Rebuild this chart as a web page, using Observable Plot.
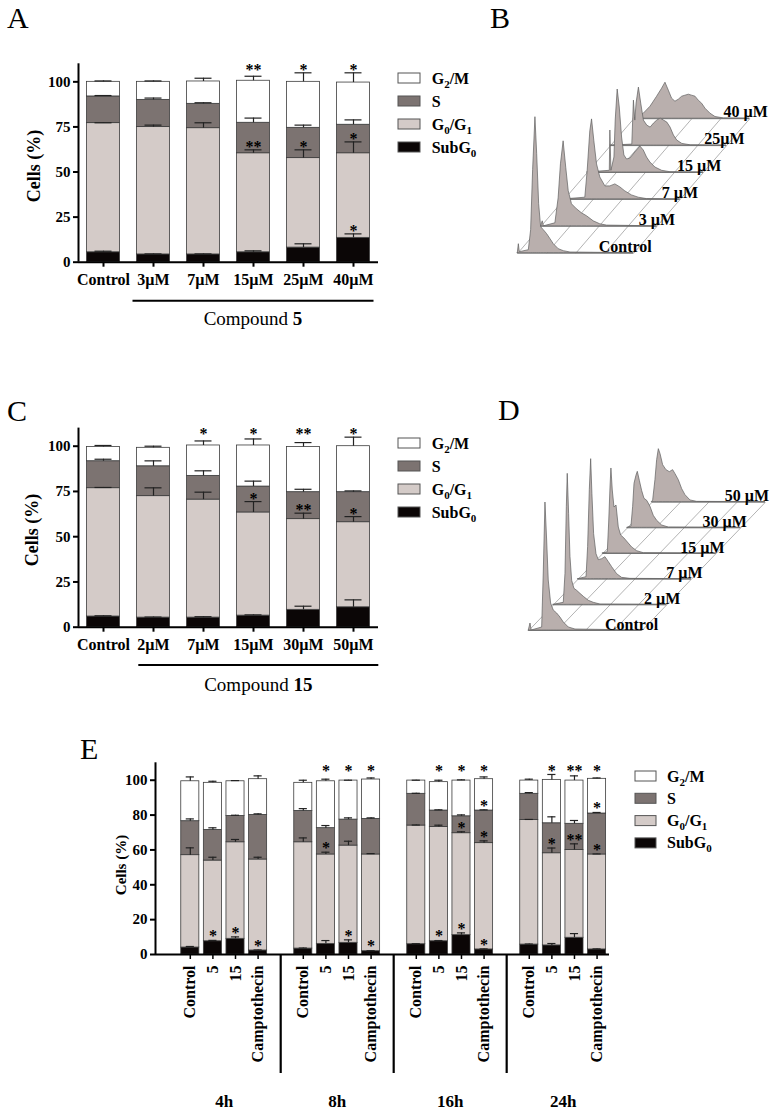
<!DOCTYPE html>
<html><head><meta charset="utf-8">
<script src="https://cdn.jsdelivr.net/npm/d3@7"></script>
<script src="https://cdn.jsdelivr.net/npm/@observablehq/plot@0.6"></script>
<style>
html,body{margin:0;padding:0;background:#fff;}
#root{position:relative;width:779px;height:1114px;overflow:hidden;background:#fff;}
</style></head>
<body><div id="root"></div>
<script>
// ---------------- DATA ----------------
const phases = ["SubG0", "G0/G1", "S", "G2/M"];
const phaseColors = ["#0b0606", "#d4cbc8", "#7c7371", "#ffffff"];
const legendOrder = ["G2/M", "S", "G0/G1", "SubG0"];

// Panel A (Compound 5)
const aGroups = ["Control", "3µM", "7µM", "15µM", "25µM", "40µM"];
const aSubG0 = [5.5, 4.3, 4.3, 5.5, 8.1, 13.5];
const aG0G1 = [71.6, 70.6, 70.0, 54.9, 49.6, 46.9];
const aS = [14.8, 15.1, 13.5, 16.9, 16.8, 15.8];
const aG2M = [8.1, 10.0, 12.4, 23.3, 25.5, 23.4];
const aSubG0Err = [0.6, 0.3, 0.3, 0.8, 2.1, 2.2];
const aG0G1Err = [0.2, 1.1, 3.0, 1.9, 4.6, 6.3];
const aSErr = [0.5, 1.0, 0.6, 2.6, 1.5, 2.7];
const aG2MErr = [0.5, 0.5, 1.8, 2.5, 5.0, 5.4];
const aStars = [[3, "top", "**"], [3, "G0/G1", "**"], [4, "top", "*"], [4, "G0/G1", "*"], [5, "top", "*"], [5, "G0/G1", "*"], [5, "SubG0", "*"]];

// Panel C (Compound 15)
const cGroups = ["Control", "2µM", "7µM", "15µM", "30µM", "50µM"];
const cSubG0 = [5.9, 5.3, 5.3, 6.4, 9.6, 11.0];
const cG0G1 = [70.9, 67.1, 65.2, 57.0, 50.1, 47.0];
const cS = [14.9, 16.5, 13.1, 14.3, 14.9, 16.6];
const cG2M = [7.9, 10.2, 16.8, 22.7, 25.0, 25.4];
const cSubG0Err = [0.4, 0.3, 0.5, 0.4, 2.0, 4.1];
const cG0G1Err = [0.4, 4.6, 4.1, 6.0, 3.3, 3.1];
const cSErr = [1.1, 3.0, 2.8, 3.0, 1.6, 0.7];
const cG2MErr = [0.8, 0.9, 2.5, 3.6, 2.4, 5.0];
const cStars = [[2, "top", "*"], [3, "top", "*"], [3, "G0/G1", "*"], [4, "top", "**"], [4, "G0/G1", "**"], [5, "top", "*"], [5, "G0/G1", "*"]];

// Panel E (time course)
const eTimes = ["4h", "8h", "16h", "24h"];
const eTreatments = ["Control", "5", "15", "Camptothecin"];
const eSubG0 = [4.0, 7.6, 9.0, 2.3, 3.4, 6.1, 6.7, 1.9, 5.9, 7.6, 11.1, 2.9, 5.7, 5.2, 9.6, 2.9];
const eG0G1 = [53.0, 46.3, 55.4, 52.2, 61.0, 51.3, 55.8, 55.5, 68.1, 65.6, 58.5, 61.0, 71.5, 52.9, 50.4, 54.5];
const eS = [19.5, 17.6, 15.1, 25.6, 18.0, 15.1, 14.9, 20.4, 18.2, 9.4, 9.7, 18.7, 15.0, 17.2, 15.0, 23.5];
const eG2M = [22.9, 27.0, 19.9, 20.5, 16.1, 26.9, 22.4, 22.6, 7.6, 16.3, 20.5, 18.0, 7.6, 24.9, 24.8, 19.9];
const eSubG0Err = [0.6, 0.5, 1.1, 0.3, 0.3, 1.9, 1.7, 0.3, 0.3, 0.4, 1.3, 0.3, 0.3, 1.1, 2.4, 0.3];
const eG0G1Err = [4.2, 1.9, 1.6, 1.3, 2.5, 1.3, 2.5, 0.5, 0.3, 1.0, 0.8, 1.3, 0.3, 3.0, 3.5, 0.3];
const eSErr = [1.3, 1.2, 0.4, 0.6, 1.3, 1.5, 1.0, 0.6, 0.3, 0.4, 0.8, 0.4, 0.7, 3.7, 1.9, 0.6];
const eG2MErr = [2.5, 0.9, 0.4, 1.9, 1.5, 1.2, 0.2, 0.9, 0.2, 1.1, 0.4, 1.3, 0.8, 3.1, 2.7, 0.5];
const eStars = [
  [1, "SubG0", "*"], [2, "SubG0", "*"], [3, "SubG0", "*"],
  [5, "top", "*"], [6, "top", "*"], [7, "top", "*"], [5, "G0/G1", "*"], [6, "SubG0", "*"], [7, "SubG0", "*"],
  [9, "top", "*"], [10, "top", "*"], [11, "top", "*"], [9, "SubG0", "*"], [10, "G0/G1", "*"], [10, "SubG0", "*"],
  [11, "S", "*"], [11, "G0/G1", "*"], [11, "SubG0", "*"],
  [13, "top", "*"], [14, "top", "**"], [15, "top", "*"], [13, "G0/G1", "*"], [14, "G0/G1", "**"], [15, "S", "*"], [15, "G0/G1", "*"]
];

// Panel B histograms (channel, relative count)
const bLabels = ["Control", "3 µM", "7 µM", "15 µM", "25µM", "40 µM"];
const bControl = [[0,0],[0.9,9],[1.7,1],[9.5,3],[11.5,23],[13.2,83],[15.2,136],[16.7,99],[18.4,49],[20.1,26],[22.4,23],[25.3,19],[28.2,14],[31,9],[35.3,4],[39.7,2],[45.4,0.7],[100,0]];
const b3uM = [[0,0],[1.5,5],[2.5,0],[12.4,3],[15.2,28],[17.2,62],[19.5,85],[21.8,58],[23.9,35],[26.7,22],[31,17],[35.3,13],[39.7,10],[45.4,5],[51.1,2],[56.9,0.7],[100,0]];
const b7uM = [[0,0],[18.2,1.7],[20.2,28],[22.5,68],[24,80],[26,58],[28.3,35],[31.1,22],[35.5,13],[39.8,13],[44.1,15],[48.4,12],[52.7,8],[58.4,4],[64.2,1.7],[71.4,0.3],[100,0]];
const b15uM = [[0,0],[19.3,1.7],[19.8,42],[20.7,1.7],[23.3,15],[24.4,52],[26.1,83],[27.9,65],[29.9,35],[31.9,17],[34.2,13],[37.1,14],[39.9,18],[42.8,22],[45.7,26],[48.6,22],[51.4,15],[54.3,10],[58.6,5],[64.4,1.7],[71.6,0.3],[100,0]];
const b25uM = [[0,0],[18.7,1],[20.1,45],[21.3,25],[22.4,42],[24.4,58],[26.4,42],[28.7,25],[31.6,20],[34.5,18],[37.4,22],[40.2,25],[43.1,27],[46,25],[48.9,23],[51.7,18],[54.6,10],[57.5,5],[61.8,1.7],[69,0.3],[100,0]];
const b40uM = [[0,0],[8.6,5],[14.4,12],[20.1,22],[24.4,30],[27.3,36],[30.2,28],[33,20],[35.9,17],[38.8,19],[41.7,22],[44.5,23],[47.4,24],[50.3,23],[53.2,22],[56,18],[58.9,15],[61.8,10],[66.1,5],[70.4,1.7],[77.6,0.3],[100,0]];

// Panel D histograms
const dLabels = ["Control", "2 µM", "7 µM", "15 µM", "30 µM", "50 µM"];
const dControl = [[0,0],[1.5,7],[2.5,0],[11.8,3],[13.2,57],[14.7,128],[16.2,90],[17.6,50],[19.7,27],[22,20],[25,17],[27.9,13],[30.9,8],[35.3,3],[41.2,1],[100,0]];
const d2uM = [[0,0],[9.1,2],[10.6,31],[11.8,98],[12.6,131],[13.8,91],[15,48],[16.5,24],[18.5,16],[20.9,14],[23.8,11],[26.8,8],[31.2,4],[35.6,2],[41.5,0.3],[100,0]];
const d7uM = [[0,0],[7.4,2],[8.8,32],[10.3,89],[11.5,120],[12.6,85],[14.1,45],[16.2,25],[18.2,19],[21.2,20],[24.1,22],[27.1,17],[30,12],[34.4,5],[38.8,1.3],[46.2,0.3],[100,0]];
const d15uM = [[0,0],[4.4,1.3],[5.6,30],[6.8,66],[7.6,85],[8.8,63],[10.3,46],[12.1,48],[14.1,26],[16.2,18],[19.1,15],[22.1,11],[25.9,6],[30.3,2.3],[36.2,0.3],[100,0]];
const d30uM = [[0,0],[3.5,1.3],[5,21],[6.2,44],[7.9,52],[9.1,56],[10.9,47],[12.9,37],[15,29],[17.4,27],[20.3,21],[23.2,12],[26.2,7],[30.6,2.3],[36.5,0.3],[100,0]];
const d50uM = [[0,0],[0.9,1.7],[2.9,22],[4.4,42],[5.9,53],[7.4,48],[9.7,37],[12.6,32],[15.6,30],[18.5,32],[20.6,28],[23.5,22],[26.5,13],[29.4,7],[33.8,1.7],[39.7,0.3],[100,0]];

// ---------------- RENDER ----------------
const FONT = '"Liberation Serif","Times New Roman",serif';
const root = document.getElementById("root");
function place(el, left, top) {
  el.style.position = "absolute"; el.style.left = left + "px"; el.style.top = top + "px";
  root.appendChild(el);
}
const svgStyle = `font-family:${FONT};font-size:15px;font-weight:bold;color:#000;background:transparent;overflow:visible;`;

function stackMarks(cfg) {
  const bars = [], errs = [];
  cfg.xPos.forEach((x, i) => {
    let base = 0;
    phases.forEach((p, k) => {
      const top = base + cfg.series[k][i];
      bars.push({x, y1: base, y2: top, phase: p});
      errs.push({x, i, phase: p, top, errTop: top + cfg.errs[k][i]});
      base = top;
    });
  });
  const stars = cfg.stars.map(([i, at, label]) => {
    const y = at === "top" ? cfg.starTop : errs.find(d => d.i === i && d.phase === at).errTop + cfg.starGap;
    return {x: cfg.xPos[i], y, label};
  });
  const hw = cfg.halfWidth, cap = cfg.capHalf;
  return [
    Plot.rect(bars, {x1: d => d.x - hw, x2: d => d.x + hw, y1: "y1", y2: "y2", fill: "phase", stroke: "#3c3c3c", strokeWidth: 0.8}),
    Plot.ruleX(errs, {x: "x", y1: "top", y2: "errTop", stroke: "#222", strokeWidth: 1.2}),
    Plot.ruleY(errs, {y: "errTop", x1: d => d.x - cap, x2: d => d.x + cap, stroke: "#222", strokeWidth: 1.2}),
    Plot.text(stars, {x: "x", y: "y", text: "label", fontSize: 16, fontWeight: "bold", dy: 3, fill: "#000"})
  ];
}

function barPanel(cfg) {
  const xPos = cfg.groups.map((g, i) => i);
  const svg = Plot.plot({
    width: 390, height: 252, marginLeft: 78, marginRight: 12, marginTop: cfg.marginTop, marginBottom: 30.3,
    style: svgStyle,
    x: {type: "linear", domain: [-0.5, 5.5], axis: null},
    y: {domain: [0, 110], axis: null},
    color: {domain: phases, range: phaseColors},
    marks: [
      ...stackMarks({xPos, series: cfg.series, errs: cfg.errs, stars: cfg.stars, starTop: cfg.starTop, starGap: 3.3, halfWidth: 0.33, capHalf: 0.17}),
      Plot.axisY({ticks: [0, 25, 50, 75, 100], tickSize: 5, tickPadding: 3, label: null, fontSize: 15, strokeWidth: 2}),
      Plot.axisX({ticks: xPos, tickFormat: i => cfg.groups[i], tickSize: 5, tickPadding: 6.5, label: null, fontSize: 16, strokeWidth: 2}),
      Plot.ruleX([-0.5], {y1: 0, y2: 110, stroke: "#000", strokeWidth: 2}),
      Plot.ruleY([0], {x1: -0.5, x2: 5.5, stroke: "#000", strokeWidth: 2})
    ]
  });
  place(svg, 0, cfg.top);
}

barPanel({groups: aGroups, series: [aSubG0, aG0G1, aS, aG2M], errs: [aSubG0Err, aG0G1Err, aSErr, aG2MErr],
  stars: aStars, starTop: 108.5, top: 40, marginTop: 23.3});
barPanel({groups: cGroups, series: [cSubG0, cG0G1, cS, cG2M], errs: [cSubG0Err, cG0G1Err, cSErr, cG2MErr],
  stars: cStars, starTop: 108.7, top: 405, marginTop: 22.6});

// Panel E
{
  const xPos = [], tickLabels = new Map();
  eTimes.forEach((t, g) => eTreatments.forEach((tr, k) => { const s = g * 5 + k; xPos.push(s); tickLabels.set(s, tr); }));
  const seps = eTimes.slice(1).map((t, g) => g * 5 + 4);
  const groupLab = eTimes.map((t, g) => ({x: g * 5 + 1.5, t}));
  const svg = Plot.plot({
    width: 779, height: 374, marginLeft: 155, marginRight: 170, marginTop: 22.3, marginBottom: 160,
    style: svgStyle,
    x: {type: "linear", domain: [-1.54, 18.55], axis: null},
    y: {domain: [0, 110], axis: null},
    color: {domain: phases, range: phaseColors},
    marks: [
      ...stackMarks({xPos, series: [eSubG0, eG0G1, eS, eG2M], errs: [eSubG0Err, eG0G1Err, eSErr, eG2MErr],
        stars: eStars, starTop: 107, starGap: 4.2, halfWidth: 0.4, capHalf: 0.18}),
      Plot.axisY({ticks: [0, 20, 40, 60, 80, 100], tickSize: 5, tickPadding: 3, label: null, fontSize: 15, strokeWidth: 2}),
      Plot.axisX({ticks: xPos, tickFormat: s => tickLabels.get(s), tickRotate: -90, tickSize: 5, tickPadding: 6, label: null, fontSize: 16, strokeWidth: 1.5}),
      Plot.ruleX([-1.54], {y1: 0, y2: 110, stroke: "#000", strokeWidth: 2}),
      Plot.ruleY([0], {x1: -1.54, x2: 18.55, stroke: "#000", strokeWidth: 2}),
      Plot.ruleX(seps, {y1: 0, y2: -68.3, stroke: "#000", strokeWidth: 2.2}),
      Plot.text(groupLab, {x: "x", y: -84.3, text: "t", fontSize: 17, fontWeight: "bold"})
    ]
  });
  place(svg, 0, 740);
}

// Panels B and D: waterfall histograms
function waterfall(cfg) {
  const {traces, labels, L, dxPx, dyPx, x0, y0, labelOffPx, labelDxPx, labelDy} = cfg;
  const k = 100 / L;
  const dxCh = dxPx * k;
  const n = traces.length;
  const fr = [0, 0.25, 0.5, 0.75, 1];
  const marks = [
    Plot.link(fr, {x1: f => f * 100, y1: 0, x2: f => f * 100 + (n - 1) * dxCh, y2: (n - 1) * dyPx, stroke: "#a0a0a0", strokeWidth: 0.8})
  ];
  for (let i = n - 1; i >= 0; i--) {
    const pts = traces[i].map(([c, v]) => ({x: c + i * dxCh, b: i * dyPx, y: i * dyPx + v}));
    marks.push(Plot.areaY(pts, {x: "x", y1: "b", y2: "y", fill: "#b9afad", stroke: "#5e5e5e", strokeWidth: 0.7}));
    marks.push(Plot.ruleY([i * dyPx], {x1: i * dxCh, x2: 100 + i * dxCh, stroke: "#6a6a6a", strokeWidth: 0.9}));
  }
  marks.push(Plot.text(labels, {
    x: (d, i) => 100 + (labelOffPx + i * labelDxPx) * k, y: (d, i) => i * dyPx + labelDy,
    text: d => d, textAnchor: "end", fontSize: 16, fontWeight: "bold", fill: "#000"
  }));
  const svg = Plot.plot({
    width: 279, height: 230, margin: 0, style: svgStyle,
    x: {type: "linear", domain: [0, 100], range: [x0, x0 + L], axis: null},
    y: {type: "linear", domain: [0, 100], range: [y0, y0 - 100], axis: null},
    marks
  });
  place(svg, cfg.left, cfg.top);
}
waterfall({traces: [bControl, b3uM, b7uM, b15uM, b25uM, b40uM], labels: bLabels, L: 116, dxPx: 23.2, dyPx: 26.9,
  x0: 17.3, y0: 202.7, left: 500, top: 50, labelOffPx: 18, labelDxPx: 23.2, labelDy: 6.5});
waterfall({traces: [dControl, d2uM, d7uM, d15uM, d30uM, d50uM], labels: dLabels, L: 113.3, dxPx: 24.67, dyPx: 25.67,
  x0: 28.3, y0: 210, left: 500, top: 420, labelOffPx: 16, labelDxPx: 22.2, labelDy: 6});

// ---------------- Overlay texts (panel letters, legends, group captions) ----------------
const ov = d3.select(root).append("svg").attr("width", 779).attr("height", 1114)
  .style("position", "absolute").style("left", "0px").style("top", "0px").style("pointer-events", "none")
  .style("font-family", FONT);

[["A", 7, 28], ["B", 490, 28], ["C", 7, 421], ["D", 498, 420], ["E", 80, 759]].forEach(([t, x, y]) =>
  ov.append("text").attr("x", x).attr("y", y).attr("font-size", 30).text(t));

function cellsLabel(cx, cy, size) {
  ov.append("text").attr("transform", `translate(${cx},${cy}) rotate(-90)`).attr("text-anchor", "middle")
    .attr("dominant-baseline", "central").attr("font-size", size).attr("font-weight", "bold").text("Cells (%)");
}
cellsLabel(33.5, 166, 18);
cellsLabel(32, 530, 18);
cellsLabel(121, 865, 15);

function compound(x1, x2, yLine, yText, num) {
  ov.append("line").attr("x1", x1).attr("x2", x2).attr("y1", yLine).attr("y2", yLine).attr("stroke", "#000").attr("stroke-width", 2);
  const t = ov.append("text").attr("x", (x1 + x2) / 2).attr("y", yText).attr("text-anchor", "middle").attr("font-size", 19);
  t.append("tspan").text("Compound ");
  t.append("tspan").attr("font-weight", "bold").text(num);
}
compound(132.5, 373.5, 300.7, 324.5, "5");
compound(138.3, 378.3, 665, 691, "15");

const legendParts = {
  "G2/M": [["G"], ["2", 1], ["/M"]],
  "S": [["S"]],
  "G0/G1": [["G"], ["0", 1], ["/G"], ["1", 1]],
  "SubG0": [["SubG"], ["0", 1]]
};
function legend(sx, sw, tx, y0, step) {
  legendOrder.forEach((p, r) => {
    const cy = y0 + r * step;
    ov.append("rect").attr("x", sx).attr("y", cy - 5).attr("width", sw).attr("height", 10)
      .attr("fill", phaseColors[phases.indexOf(p)]).attr("stroke", "#555").attr("stroke-width", 1);
    const t = ov.append("text").attr("x", tx).attr("y", cy + 5.5).attr("font-size", 16).attr("font-weight", "bold");
    let shifted = false;
    legendParts[p].forEach(([s, sub]) => {
      const ts = t.append("tspan").text(s);
      if (sub && !shifted) { ts.attr("dy", 4).attr("font-size", 11); shifted = true; }
      else if (sub) { ts.attr("font-size", 11); }
      else if (shifted) { ts.attr("dy", -4); shifted = false; }
    });
  });
}
legend(398, 22, 431.7, 78, 23);
legend(398, 22, 431.7, 443, 23);
legend(635, 21, 667, 776, 22.3);
</script>
</body></html>
